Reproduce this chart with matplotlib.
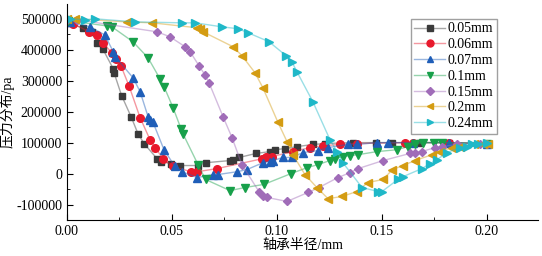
import matplotlib
matplotlib.use('Agg')

from matplotlib import pyplot as plt
from matplotlib.colors import to_rgba
from matplotlib.ticker import MultipleLocator
import numpy as np

plt.rcParams['font.family'] = ['Liberation Serif', 'Noto Sans CJK SC']
plt.rcParams['axes.unicode_minus'] = False

labels = ['0.05mm', '0.06mm', '0.07mm', '0.1mm', '0.15mm', '0.2mm', '0.24mm']

x_005 = [0.0, 0.0076, 0.012, 0.0143, 0.017, 0.022, 0.0224, 0.026, 0.0305, 0.0338, 0.0367,
         0.0429, 0.045, 0.0495, 0.054, 0.0624, 0.066, 0.0776, 0.079, 0.082, 0.090, 0.0967,
         0.099, 0.104, 0.1095, 0.117, 0.123, 0.136, 0.147, 0.155, 0.168, 0.182, 0.20]
y_005 = [485000, 471000, 458000, 423000, 403000, 339000, 326000, 252000, 184000, 129000, 97000,
         48000, 39000, 32000, 26000, 26000, 35000, 42000, 45000, 52000, 65000, 71000,
         77000, 81000, 87000, 94000, 97000, 100000, 100000, 100000, 100000, 100000, 97000]

x_006 = [0.003, 0.0105, 0.0143, 0.017, 0.0214, 0.0233, 0.0257, 0.0295, 0.0348, 0.0395, 0.042,
         0.0457, 0.0505, 0.059, 0.062, 0.0714, 0.093, 0.095, 0.0976, 0.1076, 0.1157, 0.122,
         0.13, 0.138, 0.161, 0.165, 0.182, 0.20]
y_006 = [484000, 458000, 448000, 423000, 390000, 371000, 348000, 284000, 181000, 110000, 84000,
         48000, 23000, 6000, 6000, 16000, 48000, 52000, 55000, 71000, 84000, 90000,
         94000, 97000, 100000, 100000, 100000, 97000]

x_007 = [0.0015, 0.011, 0.018, 0.022, 0.023, 0.0314, 0.0348, 0.0386, 0.0395, 0.041, 0.0462,
         0.0514, 0.0548, 0.062, 0.0695, 0.072, 0.081, 0.0857, 0.0933, 0.0967, 0.098, 0.1029,
         0.107, 0.1124, 0.1195, 0.1243, 0.1338, 0.138, 0.1476, 0.153, 0.165, 0.182, 0.20]
y_007 = [490000, 474000, 448000, 394000, 377000, 310000, 265000, 184000, 174000, 165000, 77000,
         23000, 6000, -13000, -3000, -3000, 6000, 13000, 35000, 39000, 42000, 52000,
         52000, 68000, 74000, 84000, 94000, 94000, 100000, 100000, 100000, 100000, 97000]

x_01 = [0.0005, 0.019, 0.0214, 0.0314, 0.0386, 0.0443, 0.0462, 0.0505, 0.0543, 0.0552, 0.0624,
        0.066, 0.0776, 0.0848, 0.0938, 0.1067, 0.1143, 0.1195, 0.1252, 0.1276, 0.1314, 0.1348,
        0.1386, 0.1476, 0.157, 0.1624, 0.1657, 0.1695, 0.175, 0.1786, 0.20]
y_01 = [494000, 477000, 474000, 426000, 374000, 306000, 281000, 213000, 145000, 129000, 29000,
        -19000, -55000, -45000, -35000, 0, 19000, 29000, 42000, 48000, 55000, 58000,
        61000, 71000, 77000, 87000, 94000, 100000, 100000, 100000, 97000]

x_015 = [0.0, 0.0048, 0.0429, 0.049, 0.0562, 0.0586, 0.0629, 0.0657, 0.0676, 0.0743, 0.0786,
         0.0833, 0.0914, 0.0933, 0.0952, 0.1048, 0.1148, 0.12, 0.129, 0.1348, 0.1386, 0.1505,
         0.1633, 0.1657, 0.169, 0.1752, 0.1786, 0.1857, 0.1967, 0.20]
y_015 = [497000, 497000, 458000, 442000, 410000, 394000, 348000, 319000, 294000, 184000, 116000,
         29000, -58000, -74000, -77000, -90000, -61000, -45000, -13000, 3000, 16000, 42000,
         65000, 68000, 71000, 84000, 87000, 94000, 97000, 97000]

x_02 = [0.0, 0.0038, 0.0286, 0.0405, 0.062, 0.0633, 0.0648, 0.079, 0.0833, 0.0895, 0.0933,
        0.1005, 0.1048, 0.1076, 0.1133, 0.119, 0.1243, 0.131, 0.138, 0.1433, 0.1505, 0.155,
        0.16, 0.1657, 0.1738, 0.1776, 0.1833, 0.187, 0.194, 0.198, 0.2005]
y_02 = [500000, 500000, 490000, 487000, 471000, 468000, 458000, 410000, 381000, 326000, 277000,
        165000, 103000, 61000, -3000, -45000, -81000, -74000, -58000, -29000, -19000, 13000,
        26000, 42000, 61000, 71000, 84000, 87000, 94000, 97000, 97000]

x_024 = [0.0, 0.0014, 0.0086, 0.0133, 0.0324, 0.0548, 0.061, 0.0738, 0.0814, 0.0862, 0.0962,
         0.1043, 0.1071, 0.1095, 0.1171, 0.1252, 0.1286, 0.1314, 0.1405, 0.1481, 0.15, 0.1576,
         0.16, 0.169, 0.1729, 0.1762, 0.181, 0.1871, 0.1905, 0.193, 0.1957, 0.20]
y_024 = [500000, 500000, 497000, 500000, 490000, 487000, 487000, 474000, 468000, 455000, 426000,
         381000, 361000, 329000, 232000, 110000, 71000, 35000, -45000, -58000, -58000, -19000,
         -10000, 16000, 32000, 45000, 68000, 84000, 87000, 94000, 97000, 100000]

series = [(x_005, y_005), (x_006, y_006), (x_007, y_007), (x_01, y_01),
          (x_015, y_015), (x_02, y_02), (x_024, y_024)]
markers = ['s', 'o', '^', 'v', 'D', '<', '>']
sizes = [4.5, 5.5, 5.5, 5.5, 4.5, 5.5, 5.5]
colors = ['#3a3a3a', '#e8192c', '#1f5eb8', '#17a04a', '#a06cb8', '#d49c12', '#1fb8c8']

fig = plt.figure(figsize=(5.42, 2.56), dpi=100)
ax = fig.add_axes([0.1236, 0.1406, 0.869, 0.844])

for (xs, ys), lab, m, ms, c in zip(series, labels, markers, sizes, colors):
    ax.plot(xs, ys, color=c, alpha=0.45, lw=1.0)
    ax.plot(xs, ys, ls='none', marker=m, ms=ms, color=c, mec=c)
    ax.plot([], [], color=to_rgba(c, 0.45), lw=1.0, marker=m, ms=ms - 0.5,
            mfc=c, mec=c, label=lab)

ax.set_xlim(0, 0.2243)
ax.set_ylim(-150000, 548000)
ax.xaxis.set_major_locator(MultipleLocator(0.05))
ax.xaxis.set_minor_locator(MultipleLocator(0.025))
ax.yaxis.set_major_locator(MultipleLocator(100000))
ax.yaxis.set_minor_locator(MultipleLocator(50000))
ax.xaxis.set_major_formatter(plt.FuncFormatter(lambda v, p: '%.2f' % v))
ax.tick_params(which='both', direction='in', labelsize=10)
ax.tick_params(which='major', length=4)
ax.tick_params(which='minor', length=2.5)
ax.spines['top'].set_visible(False)
ax.spines['right'].set_visible(False)

ax.set_xlabel('轴承半径/mm', fontsize=10, labelpad=1)
ax.set_ylabel('压力分布/pa', fontsize=10, labelpad=1)

handles, labs = ax.get_legend_handles_labels()
leg = ax.legend(handles, labs, loc='upper left', bbox_to_anchor=(0.758, 0.926),
                bbox_transform=fig.transFigure, fontsize=10, frameon=True, fancybox=False,
                edgecolor='#888888', handlelength=2.2, handletextpad=0.2, labelspacing=0.2,
                borderpad=0.25, borderaxespad=0)
leg.get_frame().set_linewidth(1.0)

fig.savefig('out.png', dpi=100)
